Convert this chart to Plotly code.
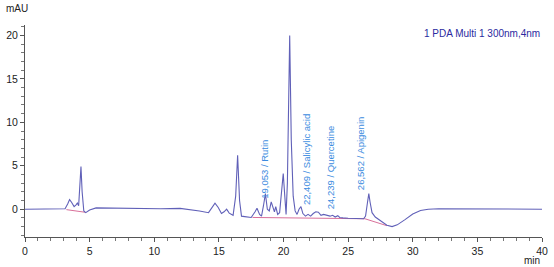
import plotly.graph_objects as go

# chromatogram trace (retention time in min, signal in mAU)
time_min = [0.0, 2.8, 3.1, 3.3, 3.45, 3.6, 3.8, 3.95, 4.05, 4.15, 4.25, 4.33, 4.42, 4.55, 4.7,
            5.0, 5.5, 7.0, 9.0, 10.5, 12.0, 12.7, 13.5, 14.2, 14.5, 14.7, 14.95, 15.2, 15.4,
            15.6, 15.8, 16.1, 16.3, 16.45, 16.6, 16.75, 17.0, 17.5, 17.8, 17.95, 18.15, 18.3,
            18.45, 18.6, 18.75, 18.9, 19.05, 19.2, 19.3, 19.4, 19.55, 19.7, 19.85, 19.98, 20.1,
            20.2, 20.3, 20.48, 20.6, 20.75, 20.9, 21.05, 21.2, 21.35, 21.5, 21.7, 21.9, 22.1,
            22.3, 22.5, 22.7, 22.9, 23.1, 23.4, 23.6, 23.8, 24.0, 24.2, 24.35, 24.6, 25.0, 26.2,
            26.35, 26.5, 26.6, 26.7, 26.85, 27.1, 27.5, 28.0, 28.4, 28.8, 29.4, 30.0, 30.6,
            31.2, 32.0, 35.0, 38.0, 40.0]
signal_mau = [0.0, 0.0, 0.05, 0.6, 1.1, 0.8, 0.3, 0.5, 0.7, 0.4, 2.5, 4.9, 2.0, -0.2, -0.4,
              -0.1, 0.15, 0.1, 0.05, 0.05, 0.1, 0.0, -0.2, -0.4, 0.3, 0.7, 0.2, -0.5, -0.3,
              0.0, -0.45, -0.7, 1.5, 6.2, 1.0, -0.8, -0.85, -0.95, -0.3, 0.1, -0.6, -0.8,
              0.4, 1.8, 0.0, -0.2, 0.85, 0.0, -0.3, 0.3, -0.6, -0.4, 2.5, 4.1, 1.5,
              -0.6, 3.0, 20.0, 8.0, 1.5, -0.2, -0.6, 0.0, 0.3, -0.5, -0.8, -0.6, -0.8,
              -0.5, -0.3, -0.35, -0.7, -0.6, -0.7, -0.8, -0.7, -0.9, -0.75, -0.95, -1.0, -1.05, -1.1,
              -0.8, 0.8, 1.8, 0.8, -0.4, -0.9, -1.3, -1.85, -2.0, -1.8, -1.2, -0.55, -0.15,
              0.0, 0.05, 0.05, 0.05, 0.0]

# integration baselines (pink)
base_time = [3.2, 4.65, None, 17.6, 26.3, 28.0]
base_mau = [-0.05, -0.35, None, -0.95, -1.1, -1.9]

# identified peaks
peak_rt = [19.053, 22.409, 24.239, 26.562]
peak_names = ["Rutin", "Salicylic acid", "Quercetine", "Apigenin"]
label_y = [1.0, 0.2, -0.2, 2.0]

fig = go.Figure()
fig.add_trace(go.Scatter(x=base_time, y=base_mau, mode="lines",
                         line=dict(color="#d9709a", width=1), hoverinfo="skip"))
fig.add_trace(go.Scatter(x=time_min, y=signal_mau, mode="lines",
                         line=dict(color="#6060b8", width=1.1), hoverinfo="skip"))

for rt, name, ly in zip(peak_rt, peak_names, label_y):
    fig.add_annotation(x=rt, y=ly, text=f"{rt:.3f}".replace(".", ",") + " / " + name,
                       textangle=-90, showarrow=False, xanchor="right", yanchor="bottom",
                       font=dict(family="Liberation Sans", size=9.5, color="#3b8be0"))

fig.add_annotation(x=1, y=1, xref="paper", yref="paper", text="1 PDA Multi 1 300nm,4nm",
                   showarrow=False, xanchor="right", yanchor="top", yshift=-1,
                   font=dict(family="Liberation Sans", size=10, color="#2a2aa0"))
fig.add_annotation(x=0, y=1, xref="paper", yref="paper", text="mAU", showarrow=False,
                   xanchor="center", yanchor="bottom", xshift=-8, yshift=9,
                   font=dict(family="Liberation Sans", size=10, color="#222"))
fig.add_annotation(x=1, y=0, xref="paper", yref="paper", text="min", showarrow=False,
                   xanchor="right", yanchor="top", yshift=-16,
                   font=dict(family="Liberation Sans", size=10, color="#222"))

axis_common = dict(showgrid=False, zeroline=False, showline=True, linecolor="#555",
                   linewidth=1, ticks="outside", ticklen=4, tickcolor="#555",
                   tickfont=dict(family="Liberation Sans", size=10.5, color="#222"))
fig.update_xaxes(range=[0, 40], dtick=5, tick0=0,
                 minor=dict(dtick=1, ticks="outside", ticklen=3, tickcolor="#777"),
                 **axis_common)
fig.update_yaxes(range=[-3.2, 21.2], dtick=5, tick0=0,
                 minor=dict(dtick=1, ticks="outside", ticklen=3, tickcolor="#777"),
                 **axis_common)

fig.update_layout(width=554, height=267, margin=dict(l=22, r=6, t=25, b=30),
                  plot_bgcolor="white", paper_bgcolor="white", showlegend=False)
fig.write_html("out.html")
